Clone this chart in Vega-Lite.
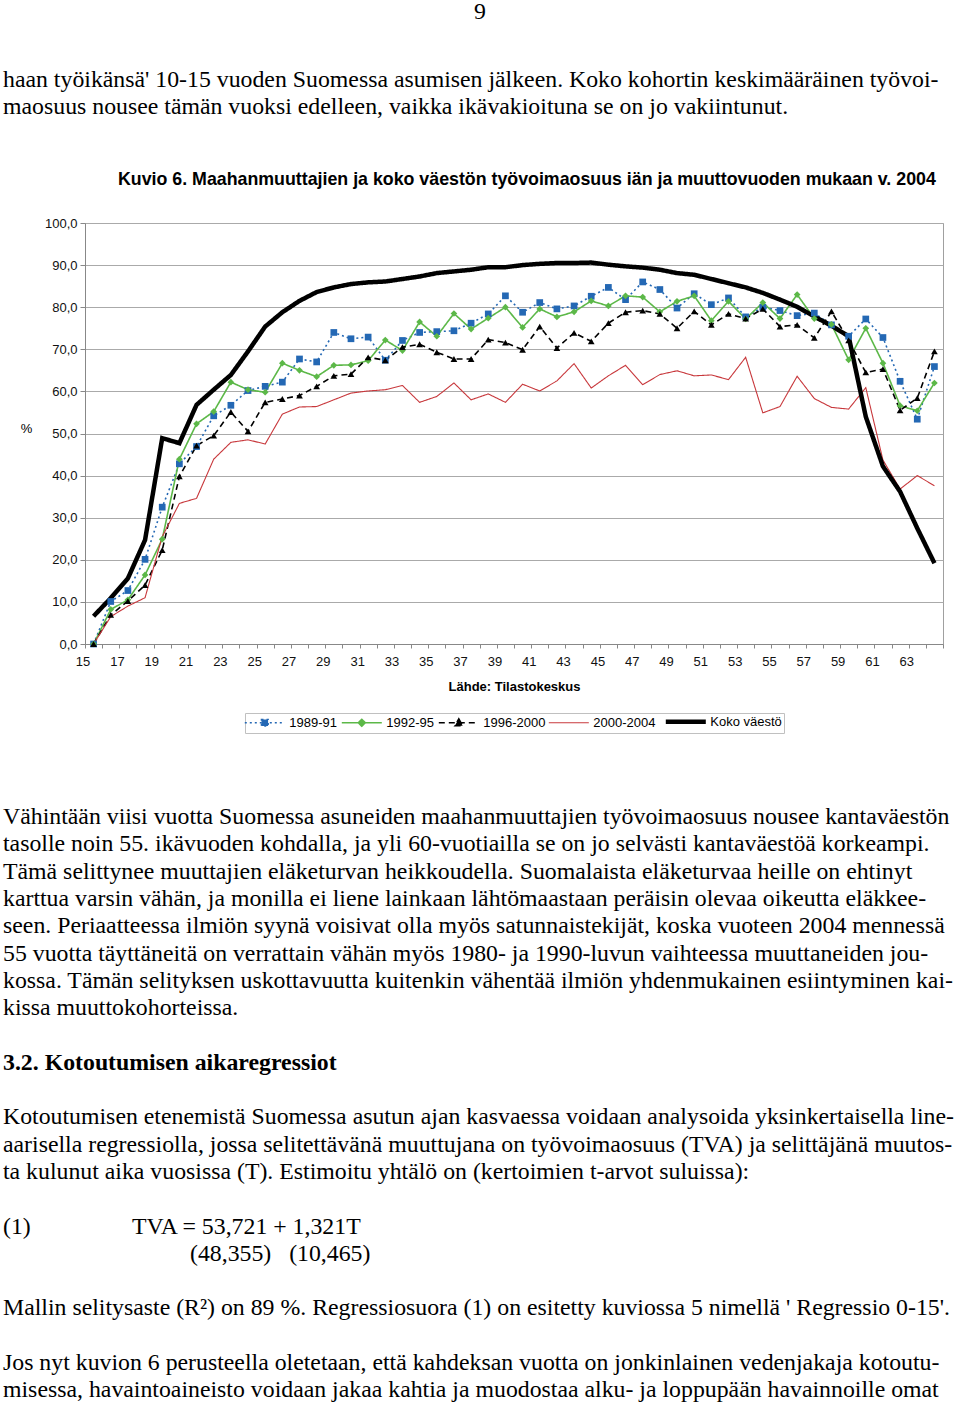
{
  "$schema": "https://vega.github.io/schema/vega-lite/v6.json",
  "width": 858,
  "height": 421,
  "autosize": {"type": "none"},
  "padding": {"left": 85, "top": 223, "right": 17, "bottom": 762},
  "background": "white",
  "config": {
    "view": {"stroke": "#a0a0a0", "strokeWidth": 1},
    "font": "Liberation Sans",
    "legend": {
      "orient": "none",
      "legendX": 160,
      "legendY": 490,
      "direction": "horizontal",
      "symbolType": "M-2.31,0H2.31",
      "symbolSize": 300,
      "symbolOffset": 11.3,
      "labelFont": "Liberation Sans",
      "labelFontSize": 13,
      "labelColor": "#000",
      "labelOffset": 18,
      "columnPadding": 0,
      "strokeColor": "#c0c0c0",
      "fillColor": "white",
      "padding": 2
    }
  },
  "datasets": {
    "rates": [
      {"age": 15, "1989-91": 0, "1992-95": 0, "1996-2000": 0, "2000-2004": 0, "Koko väestö": 6.6},
      {"age": 16, "1989-91": 10.1, "1992-95": 8.2, "1996-2000": 6.9, "2000-2004": 6.5, "Koko väestö": 10.9},
      {"age": 17, "1989-91": 12.7, "1992-95": 10.5, "1996-2000": 10.2, "2000-2004": 9.0, "Koko väestö": 15.6},
      {"age": 18, "1989-91": 20.1, "1992-95": 16.4, "1996-2000": 14.0, "2000-2004": 11.0, "Koko väestö": 24.7},
      {"age": 19, "1989-91": 32.5, "1992-95": 24.9, "1996-2000": 22.3, "2000-2004": 25.5, "Koko väestö": 48.9},
      {"age": 20, "1989-91": 42.8, "1992-95": 43.9, "1996-2000": 39.8, "2000-2004": 33.4, "Koko väestö": 47.7},
      {"age": 21, "1989-91": 46.9, "1992-95": 52.3, "1996-2000": 47.1, "2000-2004": 34.6, "Koko väestö": 56.8},
      {"age": 22, "1989-91": 54.2, "1992-95": 55.2, "1996-2000": 49.5, "2000-2004": 43.9, "Koko väestö": 60.4},
      {"age": 23, "1989-91": 56.7, "1992-95": 62.2, "1996-2000": 55.1, "2000-2004": 47.9, "Koko väestö": 63.9},
      {"age": 24, "1989-91": 60.2, "1992-95": 60.4, "1996-2000": 50.5, "2000-2004": 48.5, "Koko väestö": 69.5},
      {"age": 25, "1989-91": 61.2, "1992-95": 59.8, "1996-2000": 57.4, "2000-2004": 47.5, "Koko väestö": 75.4},
      {"age": 26, "1989-91": 62.2, "1992-95": 66.7, "1996-2000": 58.2, "2000-2004": 54.6, "Koko väestö": 78.8},
      {"age": 27, "1989-91": 67.7, "1992-95": 65.0, "1996-2000": 59.0, "2000-2004": 56.3, "Koko väestö": 81.5},
      {"age": 28, "1989-91": 67.0, "1992-95": 63.5, "1996-2000": 61.2, "2000-2004": 56.4, "Koko väestö": 83.6},
      {"age": 29, "1989-91": 74.0, "1992-95": 66.2, "1996-2000": 63.7, "2000-2004": 58.0, "Koko väestö": 84.7},
      {"age": 30, "1989-91": 72.5, "1992-95": 66.3, "1996-2000": 64.1, "2000-2004": 59.6, "Koko väestö": 85.5},
      {"age": 31, "1989-91": 72.9, "1992-95": 67.3, "1996-2000": 68.1, "2000-2004": 60.1, "Koko väestö": 85.9},
      {"age": 32, "1989-91": 67.4, "1992-95": 72.2, "1996-2000": 67.4, "2000-2004": 60.4, "Koko väestö": 86.1},
      {"age": 33, "1989-91": 72.1, "1992-95": 69.7, "1996-2000": 70.5, "2000-2004": 61.4, "Koko väestö": 86.7},
      {"age": 34, "1989-91": 74.0, "1992-95": 76.5, "1996-2000": 71.2, "2000-2004": 57.4, "Koko väestö": 87.3},
      {"age": 35, "1989-91": 74.2, "1992-95": 73.1, "1996-2000": 69.3, "2000-2004": 58.8, "Koko väestö": 88.1},
      {"age": 36, "1989-91": 74.4, "1992-95": 78.5, "1996-2000": 67.7, "2000-2004": 62.0, "Koko väestö": 88.5},
      {"age": 37, "1989-91": 76.2, "1992-95": 74.8, "1996-2000": 67.7, "2000-2004": 58.0, "Koko väestö": 88.9},
      {"age": 38, "1989-91": 78.4, "1992-95": 77.4, "1996-2000": 72.3, "2000-2004": 59.4, "Koko väestö": 89.5},
      {"age": 39, "1989-91": 82.7, "1992-95": 80.0, "1996-2000": 71.6, "2000-2004": 57.4, "Koko väestö": 89.5},
      {"age": 40, "1989-91": 78.8, "1992-95": 75.2, "1996-2000": 69.9, "2000-2004": 61.7, "Koko väestö": 90.0},
      {"age": 41, "1989-91": 81.1, "1992-95": 79.6, "1996-2000": 75.4, "2000-2004": 60.1, "Koko väestö": 90.3},
      {"age": 42, "1989-91": 79.6, "1992-95": 77.7, "1996-2000": 70.3, "2000-2004": 62.5, "Koko väestö": 90.5},
      {"age": 43, "1989-91": 80.3, "1992-95": 78.9, "1996-2000": 73.9, "2000-2004": 66.6, "Koko väestö": 90.5},
      {"age": 44, "1989-91": 82.6, "1992-95": 81.5, "1996-2000": 71.9, "2000-2004": 60.8, "Koko väestö": 90.6},
      {"age": 45, "1989-91": 84.7, "1992-95": 80.3, "1996-2000": 76.2, "2000-2004": 63.7, "Koko väestö": 90.1},
      {"age": 46, "1989-91": 81.8, "1992-95": 82.7, "1996-2000": 78.8, "2000-2004": 66.2, "Koko väestö": 89.7},
      {"age": 47, "1989-91": 86.0, "1992-95": 82.4, "1996-2000": 79.2, "2000-2004": 61.6, "Koko väestö": 89.4},
      {"age": 48, "1989-91": 84.2, "1992-95": 78.9, "1996-2000": 78.4, "2000-2004": 64.0, "Koko väestö": 88.9},
      {"age": 49, "1989-91": 79.8, "1992-95": 81.4, "1996-2000": 75.0, "2000-2004": 64.9, "Koko väestö": 88.1},
      {"age": 50, "1989-91": 83.2, "1992-95": 82.7, "1996-2000": 79.0, "2000-2004": 63.7, "Koko väestö": 87.7},
      {"age": 51, "1989-91": 80.6, "1992-95": 76.8, "1996-2000": 75.8, "2000-2004": 63.9, "Koko väestö": 86.7},
      {"age": 52, "1989-91": 82.2, "1992-95": 81.4, "1996-2000": 78.4, "2000-2004": 62.8, "Koko väestö": 85.7},
      {"age": 53, "1989-91": 77.7, "1992-95": 77.2, "1996-2000": 77.3, "2000-2004": 68.1, "Koko väestö": 84.7},
      {"age": 54, "1989-91": 80.0, "1992-95": 81.1, "1996-2000": 79.6, "2000-2004": 54.9, "Koko väestö": 83.4},
      {"age": 55, "1989-91": 79.2, "1992-95": 77.3, "1996-2000": 75.4, "2000-2004": 56.4, "Koko väestö": 81.8},
      {"age": 56, "1989-91": 78.0, "1992-95": 83.0, "1996-2000": 75.8, "2000-2004": 63.6, "Koko väestö": 80.1},
      {"age": 57, "1989-91": 78.6, "1992-95": 77.3, "1996-2000": 72.7, "2000-2004": 58.3, "Koko väestö": 77.8},
      {"age": 58, "1989-91": 75.8, "1992-95": 75.9, "1996-2000": 79.0, "2000-2004": 56.2, "Koko väestö": 75.6},
      {"age": 59, "1989-91": 73.1, "1992-95": 67.5, "1996-2000": 72.1, "2000-2004": 55.8, "Koko väestö": 73.1},
      {"age": 60, "1989-91": 77.2, "1992-95": 75.0, "1996-2000": 64.5, "2000-2004": 60.9, "Koko väestö": 54.0},
      {"age": 61, "1989-91": 72.8, "1992-95": 66.7, "1996-2000": 65.3, "2000-2004": 43.7, "Koko väestö": 42.2},
      {"age": 62, "1989-91": 62.4, "1992-95": 56.6, "1996-2000": 55.5, "2000-2004": 36.8, "Koko väestö": 36.2},
      {"age": 63, "1989-91": 53.4, "1992-95": 55.4, "1996-2000": 58.4, "2000-2004": 40.0, "Koko väestö": 27.5},
      {"age": 64, "1989-91": 65.9, "1992-95": 62.0, "1996-2000": 69.5, "2000-2004": 37.6, "Koko väestö": 19.2}
    ],
    "body": [
      {"line": -27, "text": "haan työikänsä' 10-15 vuoden Suomessa asumisen jälkeen. Koko kohortin keskimääräinen työvoi-"},
      {"line": -26, "text": "maosuus nousee tämän vuoksi edelleen, vaikka ikävakioituna se on jo vakiintunut."},
      {"line": 0, "text": "Vähintään viisi vuotta Suomessa asuneiden maahanmuuttajien työvoimaosuus nousee kantaväestön"},
      {"line": 1, "text": "tasolle noin 55. ikävuoden kohdalla, ja yli 60-vuotiailla se on jo selvästi kantaväestöä korkeampi."},
      {"line": 2, "text": "Tämä selittynee muuttajien eläketurvan heikkoudella. Suomalaista eläketurvaa heille on ehtinyt"},
      {"line": 3, "text": "karttua varsin vähän, ja monilla ei liene lainkaan lähtömaastaan peräisin olevaa oikeutta eläkkee-"},
      {"line": 4, "text": "seen. Periaatteessa ilmiön syynä voisivat olla myös satunnaistekijät, koska vuoteen 2004 mennessä"},
      {"line": 5, "text": "55 vuotta täyttäneitä on verrattain vähän myös 1980- ja 1990-luvun vaihteessa muuttaneiden jou-"},
      {"line": 6, "text": "kossa. Tämän selityksen uskottavuutta kuitenkin vähentää ilmiön yhdenmukainen esiintyminen kai-"},
      {"line": 7, "text": "kissa muuttokohorteissa."},
      {"line": 11, "text": "Kotoutumisen etenemistä Suomessa asutun ajan kasvaessa voidaan analysoida yksinkertaisella line-"},
      {"line": 12, "text": "aarisella regressiolla, jossa selitettävänä muuttujana on työvoimaosuus (TVA) ja selittäjänä muutos-"},
      {"line": 13, "text": "ta kulunut aika vuosissa (T). Estimoitu yhtälö on (kertoimien t-arvot suluissa):"},
      {"line": 15, "text": "(1)"},
      {"line": 18, "text": "Mallin selitysaste (R²) on 89 %. Regressiosuora (1) on esitetty kuviossa 5 nimellä ' Regressio 0-15'."},
      {"line": 20, "text": "Jos nyt kuvion 6 perusteella oletetaan, että kahdeksan vuotta on jonkinlainen vedenjakaja kotoutu-"},
      {"line": 21, "text": "misessa, havaintoaineisto voidaan jakaa kahtia ja muodostaa alku- ja loppupään havainnoille omat"}
    ],
    "heading": [{"line": 9, "text": "3.2. Kotoutumisen aikaregressiot"}],
    "formula1": [{"line": 15, "text": "TVA = 53,721 + 1,321T"}],
    "formula2": [{"line": 16, "text": "(48,355)\u00a0\u00a0\u00a0(10,465)"}],
    "pagenum": [{"text": "9"}],
    "figtitle": [{"text": "Kuvio 6. Maahanmuuttajien ja koko väestön työvoimaosuus iän ja muuttovuoden mukaan v. 2004"}]
  },
  "layer": [
    {
      "data": {"name": "rates"},
      "transform": [
        {"fold": ["1989-91", "1992-95", "1996-2000", "2000-2004", "Koko väestö"], "as": ["s", "v"]}
      ],
      "encoding": {
        "x": {
          "field": "age",
          "type": "ordinal",
          "bandPosition": 0.5,
          "scale": {"type": "band", "paddingInner": 0, "paddingOuter": 0},
          "axis": {
            "title": "Lähde: Tilastokeskus",
            "titleFontSize": 13,
            "titleFontWeight": "bold",
            "titleColor": "#000",
            "titlePadding": 12,
            "labelAngle": 0,
            "labelFontSize": 13,
            "labelColor": "#111",
            "labelPadding": 7,
            "labelOffset": -11,
            "labelOverlap": false,
            "labelExpr": "datum.value % 2 == 1 ? datum.label : ''",
            "tickBand": "extent",
            "tickSize": 4,
            "tickColor": "#888",
            "domainColor": "#888",
            "grid": false
          }
        },
        "y": {
          "field": "v",
          "type": "quantitative",
          "scale": {"domain": [0, 100], "nice": false},
          "axis": {
            "values": [0, 10, 20, 30, 40, 50, 60, 70, 80, 90, 100],
            "labelExpr": "replace(format(datum.value, '.1f'), '.', ',')",
            "labelFontSize": 13,
            "labelColor": "#111",
            "labelPadding": 3,
            "tickSize": 5,
            "tickColor": "#888",
            "domainColor": "#888",
            "gridColor": "#aaaaaa",
            "gridWidth": 1,
            "title": "%",
            "titleAngle": 0,
            "titleX": -59,
            "titleY": 205,
            "titleAlign": "center",
            "titleBaseline": "middle",
            "titleFontSize": 13,
            "titleFontWeight": "normal",
            "titleColor": "#000"
          }
        }
      },
      "layer": [
        {
          "mark": {"type": "line"},
          "encoding": {
            "color": {
              "field": "s",
              "type": "nominal",
              "scale": {
                "domain": ["1989-91", "1992-95", "1996-2000", "2000-2004", "Koko väestö"],
                "range": ["#2468b4", "#5cb848", "#000000", "#c8383c", "#000000"]
              },
              "legend": {
                "title": null,
                "encode": {
                  "symbols": {
                    "update": {
                      "shape": {"signal": "datum.value === '1989-91' ? 'M-2.31,0H2.31M-0.38,-0.38H0.38V0.38H-0.38Z' : datum.value === '1992-95' ? 'M-2.31,0H2.31M0,-0.4L0.4,0L0,0.4L-0.4,0Z' : datum.value === '1996-2000' ? 'M-2.31,0H2.31M0,-0.45L0.45,0.35H-0.45Z' : 'M-2.31,0H2.31'"},
                      "fill": {"signal": "datum.value === '1989-91' ? '#2468b4' : datum.value === '1992-95' ? '#5cb848' : datum.value === '1996-2000' ? '#000000' : 'transparent'"},
                      "strokeWidth": {"signal": "datum.value === 'Koko väestö' ? 4.5 : datum.value === '2000-2004' ? 1.1 : 1.6"}
                    }
                  }
                }
              }
            },
            "strokeDash": {
              "field": "s",
              "type": "nominal",
              "scale": {
                "domain": ["1989-91", "1992-95", "1996-2000", "2000-2004", "Koko väestö"],
                "range": [[2, 3], [1, 0], [6, 4], [1, 0], [1, 0]]
              },
              "legend": {"title": null}
            },
            "strokeWidth": {
              "condition": [
                {"test": "datum.s === 'Koko väestö'", "value": 4.5},
                {"test": "datum.s === '2000-2004'", "value": 1.1}
              ],
              "value": 1.6
            }
          }
        },
        {
          "transform": [{"filter": {"field": "s", "oneOf": ["1989-91", "1992-95", "1996-2000"]}}],
          "mark": {"type": "point", "filled": true, "opacity": 1, "size": 45},
          "encoding": {
            "color": {"field": "s", "type": "nominal", "legend": {"title": null}},
            "shape": {
              "field": "s",
              "type": "nominal",
              "scale": {
                "domain": ["1989-91", "1992-95", "1996-2000"],
                "range": ["square", "diamond", "triangle-up"]
              },
              "legend": null
            }
          }
        }
      ]
    },
    {
      "data": {"name": "figtitle"},
      "mark": {"type": "text", "align": "left", "baseline": "alphabetic", "font": "Liberation Sans", "fontSize": 17.8, "fontWeight": "bold", "color": "#000"},
      "encoding": {
        "x": {"value": 33},
        "y": {"value": -38},
        "text": {"field": "text"}
      }
    },
    {
      "data": {"name": "body"},
      "mark": {"type": "text", "align": "left", "baseline": "middle", "font": "Liberation Serif", "fontSize": 23.8, "color": "#000"},
      "encoding": {
        "x": {"value": -82},
        "y": {"field": "line", "type": "quantitative", "scale": {"domain": [0, 21], "range": [594, 1167.3], "nice": false, "zero": false}, "axis": null},
        "text": {"field": "text"}
      }
    },
    {
      "data": {"name": "heading"},
      "mark": {"type": "text", "align": "left", "baseline": "middle", "font": "Liberation Serif", "fontSize": 23.8, "fontWeight": "bold", "color": "#000"},
      "encoding": {
        "x": {"value": -82},
        "y": {"field": "line", "type": "quantitative", "scale": {"domain": [0, 21], "range": [594, 1167.3], "nice": false, "zero": false}, "axis": null},
        "text": {"field": "text"}
      }
    },
    {
      "data": {"name": "formula1"},
      "mark": {"type": "text", "align": "left", "baseline": "middle", "font": "Liberation Serif", "fontSize": 23.8, "color": "#000"},
      "encoding": {
        "x": {"value": 47},
        "y": {"field": "line", "type": "quantitative", "scale": {"domain": [0, 21], "range": [594, 1167.3], "nice": false, "zero": false}, "axis": null},
        "text": {"field": "text"}
      }
    },
    {
      "data": {"name": "formula2"},
      "mark": {"type": "text", "align": "left", "baseline": "middle", "font": "Liberation Serif", "fontSize": 23.8, "color": "#000"},
      "encoding": {
        "x": {"value": 105},
        "y": {"field": "line", "type": "quantitative", "scale": {"domain": [0, 21], "range": [594, 1167.3], "nice": false, "zero": false}, "axis": null},
        "text": {"field": "text"}
      }
    },
    {
      "data": {"name": "pagenum"},
      "mark": {"type": "text", "align": "center", "baseline": "middle", "font": "Liberation Serif", "fontSize": 23.8, "color": "#000"},
      "encoding": {
        "x": {"value": 395},
        "y": {"value": -211},
        "text": {"field": "text"}
      }
    }
  ],
  "resolve": {"scale": {"y": "independent"}}
}
